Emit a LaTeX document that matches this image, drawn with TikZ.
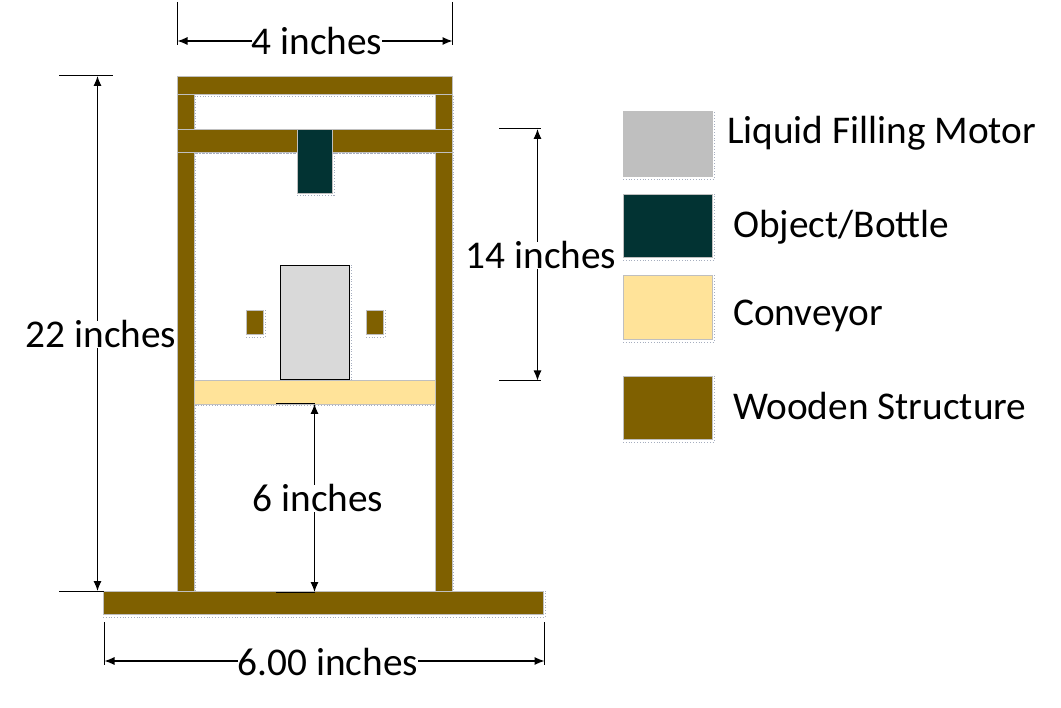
\documentclass[tikz,border=0pt]{standalone}
\usepackage{fontspec}
\setmainfont{Carlito}
\usetikzlibrary{arrows.meta}
\definecolor{wood}{HTML}{7F6000}
\definecolor{bottle}{HTML}{023333}
\definecolor{belt}{HTML}{FFE399}
\definecolor{motor}{HTML}{D9D9D9}
\definecolor{motorkey}{HTML}{BFBFBF}
\definecolor{halo}{HTML}{A6AEBF}
\tikzset{
	block/.style={draw=motorkey, line width=0.8pt},
	halo/.style={draw=halo, line width=0.8pt, dotted},
	measure/.style={black, line width=1.1pt, {Latex[length=10pt,width=8pt]}-{Latex[length=10pt,width=8pt]}},
	tick/.style={black, line width=1pt},
	size/.style={fill=white, inner sep=0pt, anchor=base, font=\fontsize{39.3}{44}\selectfont},
	key/.style={anchor=base west, inner sep=0pt, font=\fontsize{39.3}{44}\selectfont}
}

\begin{document}
\begin{tikzpicture}[x=1pt, y=-1pt]
	\useasboundingbox (0, 0) rectangle (1061, 708);

	% dotted halo round the shapes
	\foreach \xa/\ya/\xb/\yb in {297/152/334/195, 246/310/265/337, 366/310/385/337,
		280/265/351/382, 103/591/545/617, 623/111/714/179, 623/194/714/260,
		623/275/714/342, 623/376/714/442}
	\draw[halo] (\xa, \yb) -- (\xb, \yb) -- (\xb, \ya);
	\draw[halo] (195.5, 96) rectangle (435, 153);
	\draw[halo] (195.5, 153) rectangle (435, 405.5);
	\draw[halo] (195.5, 405.5) -- (195.5, 591);
	\draw[halo] (435, 405.5) -- (435, 591);
	\draw[halo] (453.5, 96) -- (453.5, 591);

	% wooden frame
	\foreach \xa/\ya/\xb/\yb in {177.5/76.5/452.5/94.5, 177.5/94.5/194.5/129.5, 435.5/94.5/452.5/129.5,
		177.5/129.5/297.5/152.5, 332.5/129.5/452.5/152.5, 177.5/152.5/194.5/591.5, 435.5/152.5/452.5/591.5,
		103.5/591.5/543.5/614.5, 246.5/310.5/263.5/334.5, 366.5/310.5/383.5/334.5}
	\draw[block, fill=wood] (\xa, \ya) rectangle (\xb, \yb);

	\draw[block, fill=bottle] (297.5, 129.5) rectangle (332.5, 193.5);
	\draw[block, fill=belt] (194.5, 380.5) rectangle (435.5, 404.5);
	\draw[black, line width=1pt, fill=motor] (280.5, 265.5) rectangle (349.5, 379.5);

	% legend
	\draw[block, fill=motorkey] (623, 111.5) rectangle (712.5, 176.5);
	\draw[block, fill=bottle] (623.5, 194) rectangle (712.5, 257);
	\draw[block, fill=belt] (623, 275.5) rectangle (712.5, 339.5);
	\draw[block, fill=wood] (623.5, 376) rectangle (712.5, 439.5);
	\node[key] (motorlabel) at (727, 144) {Liquid Filling Motor};
	\node[key] (bottlelabel) at (733, 238) {Object/Bottle};
	\node[key] (beltlabel) at (733, 326) {Conveyor};
	\node[key] (woodlabel) at (733, 420) {Wooden Structure};

	% 4 inches
	\coordinate (topa) at (177.5, 2);
	\coordinate (topb) at (452.5, 2);
	\coordinate (topc) at (177.5, 45);
	\coordinate (topd) at (452.5, 45);
	\coordinate (tope) at (177.5, 41);
	\coordinate (topf) at (452.5, 41);
	\draw[tick] (topa) -- (topc);
	\draw[tick] (topb) -- (topd);
	\draw[measure] (tope) -- (topf);
	\node[size] (topsize) at (317, 55) {4 inches};

	% 22 inches
	\coordinate (lefta) at (59, 76);
	\coordinate (leftb) at (113, 76);
	\coordinate (leftc) at (59, 591);
	\coordinate (leftd) at (104, 591);
	\coordinate (lefte) at (97.5, 76);
	\coordinate (leftf) at (97.5, 591);
	\draw[tick] (lefta) -- (leftb);
	\draw[tick] (leftc) -- (leftd);
	\draw[measure] (lefte) -- (leftf);
	\node[size] (leftsize) at (101, 348) {22 inches};

	% 14 inches
	\coordinate (righta) at (499, 129);
	\coordinate (rightb) at (541, 129);
	\coordinate (rightc) at (499, 380.5);
	\coordinate (rightd) at (541, 380.5);
	\coordinate (righte) at (537.5, 129);
	\coordinate (rightf) at (537.5, 380.5);
	\draw[tick] (righta) -- (rightb);
	\draw[tick] (rightc) -- (rightd);
	\draw[measure] (righte) -- (rightf);
	\node[size] (rightsize) at (541, 269) {14 inches};

	% 6 inches
	\coordinate (mida) at (276, 404);
	\coordinate (midb) at (314.5, 404);
	\coordinate (midc) at (276, 592);
	\coordinate (midd) at (314.5, 592);
	\draw[tick] (mida) -- (midb);
	\draw[tick] (midc) -- (midd);
	\draw[measure] (midb) -- (midd);
	\node[size] (midsize) at (318, 512) {6 inches};

	% 6.00 inches
	\coordinate (basea) at (104.5, 622);
	\coordinate (baseb) at (544.5, 622);
	\coordinate (basec) at (104.5, 665);
	\coordinate (based) at (544.5, 665);
	\coordinate (basee) at (104.5, 661);
	\coordinate (basef) at (544.5, 661);
	\draw[tick] (basea) -- (basec);
	\draw[tick] (baseb) -- (based);
	\draw[measure] (basee) -- (basef);
	\node[size] (basesize) at (328, 675) {6.00 inches};
\end{tikzpicture}
\end{document}
